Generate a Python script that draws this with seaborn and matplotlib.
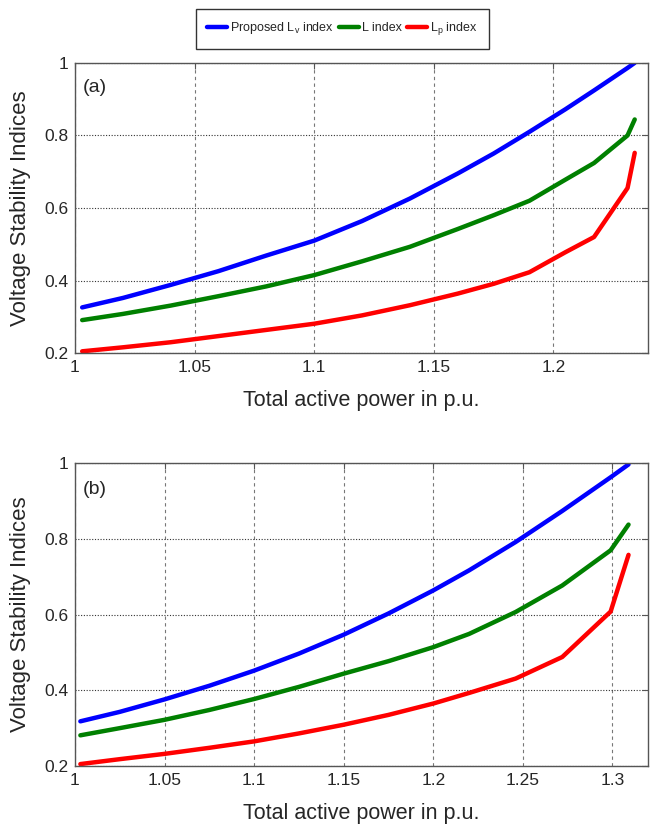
import numpy as np
import pandas as pd
import matplotlib
matplotlib.use("Agg")
import matplotlib.pyplot as plt
import seaborn as sns
from matplotlib.lines import Line2D

# ---------------- data ----------------
series_names = ["Proposed Lv index", "L index", "Lp index"]
legend_labels = [r"Proposed L$_\mathregular{v}$ index", "L index", r"L$_\mathregular{p}$ index"]
series_colors = ["#0000FF", "#008000", "#FF0000"]

# panel (a)
x_a = [1.003, 1.02, 1.04, 1.06, 1.08, 1.10, 1.12, 1.14, 1.16, 1.175, 1.19, 1.205, 1.217, 1.231, 1.234]
lv_a = [0.326, 0.352, 0.388, 0.426, 0.469, 0.510, 0.564, 0.626, 0.695, 0.750, 0.810, 0.872, 0.924, 0.986, 1.000]
l_a = [0.291, 0.308, 0.331, 0.357, 0.384, 0.415, 0.453, 0.493, 0.542, 0.580, 0.620, 0.678, 0.724, 0.800, 0.844]
lp_a = [0.205, 0.216, 0.230, 0.247, 0.264, 0.281, 0.304, 0.332, 0.364, 0.391, 0.423, 0.478, 0.520, 0.655, 0.752]

# panel (b)
x_b = [1.003, 1.025, 1.05, 1.075, 1.10, 1.125, 1.15, 1.175, 1.20, 1.22, 1.246, 1.272, 1.299, 1.309]
lv_b = [0.318, 0.343, 0.376, 0.412, 0.452, 0.497, 0.547, 0.603, 0.664, 0.717, 0.792, 0.874, 0.963, 0.997]
l_b = [0.281, 0.300, 0.322, 0.348, 0.377, 0.409, 0.444, 0.477, 0.514, 0.549, 0.607, 0.677, 0.770, 0.838]
lp_b = [0.205, 0.218, 0.232, 0.248, 0.265, 0.286, 0.309, 0.335, 0.365, 0.393, 0.431, 0.488, 0.608, 0.758]

xticks_a = [1.0, 1.05, 1.1, 1.15, 1.2]
xticklabels_a = ["1", "1.05", "1.1", "1.15", "1.2"]
xticks_b = [1.0, 1.05, 1.1, 1.15, 1.2, 1.25, 1.3]
xticklabels_b = ["1", "1.05", "1.1", "1.15", "1.2", "1.25", "1.3"]
yticks = [0.2, 0.4, 0.6, 0.8, 1.0]
yticklabels = ["0.2", "0.4", "0.6", "0.8", "1"]
panel_tags = ["(a)", "(b)"]
xlabel = "Total active power in p.u."
ylabel = "Voltage Stability Indices"


def long_frame(x, lv, l, lp):
    frames = []
    for name, vals in zip(series_names, [lv, l, lp]):
        frames.append(pd.DataFrame({"x": x, "y": vals, "series": name}))
    return pd.concat(frames, ignore_index=True)


df_a = long_frame(x_a, lv_a, l_a, lp_a)
df_b = long_frame(x_b, lv_b, l_b, lp_b)

sns.set_style("white")
plt.rcParams["font.family"] = ["Liberation Sans", "DejaVu Sans"]
plt.rcParams["mathtext.fontset"] = "custom"
plt.rcParams["mathtext.rm"] = "Liberation Sans"

fig = plt.figure(figsize=(6.51, 8.27), dpi=100)
ax1 = fig.add_axes([0.1152, 0.573, 0.880, 0.351])
ax2 = fig.add_axes([0.1152, 0.0738, 0.880, 0.366])

palette = dict(zip(series_names, series_colors))

panels = [
    (ax1, df_a, (1.0, 1.2395), xticks_a, xticklabels_a, panel_tags[0]),
    (ax2, df_b, (1.0, 1.3198), xticks_b, xticklabels_b, panel_tags[1]),
]

for ax, df, xlim, xt, xtl, tag in panels:
    sns.lineplot(data=df, x="x", y="y", hue="series", palette=palette,
                 linewidth=3.2, sort=False, legend=False, ax=ax, estimator=None)
    ax.set_xlim(*xlim)
    ax.set_ylim(0.2, 1.0)
    ax.set_xticks(xt)
    ax.set_xticklabels(xtl)
    ax.set_yticks(yticks)
    ax.set_yticklabels(yticklabels)
    ax.xaxis.grid(True, linestyle=(0, (3, 3)), color="#777777", linewidth=0.8)
    ax.yaxis.grid(True, linestyle=(0, (1, 1.5)), color="#333333", linewidth=0.8)
    ax.set_axisbelow(True)
    for sp in ax.spines.values():
        sp.set_visible(True)
        sp.set_color("#555555")
        sp.set_linewidth(1.0)
    ax.tick_params(axis="both", direction="in", length=4, width=0.8, color="#555555",
                   labelsize=12.5, top=True, right=True, pad=5)
    ax.set_xlabel(xlabel, fontsize=15.5, labelpad=11)
    ax.set_ylabel(ylabel, fontsize=16, labelpad=9)
    ax.text(0.013, 0.915, tag, transform=ax.transAxes, fontsize=14,
            ha="left", va="center")

handles = [Line2D([0], [0], color=c, linewidth=3.2) for c in series_colors]
leg = fig.legend(handles, legend_labels, loc="center", bbox_to_anchor=(0.526, 0.965),
                 ncol=3, fontsize=9, frameon=True, fancybox=False,
                 handlelength=1.6, handletextpad=0.25, columnspacing=0.4,
                 borderpad=0.9, borderaxespad=0)
leg.get_frame().set_edgecolor("black")
leg.get_frame().set_linewidth(1.0)

fig.savefig("out.png", dpi=100)
